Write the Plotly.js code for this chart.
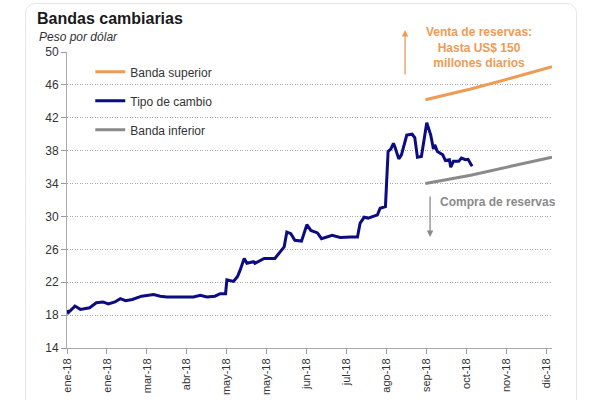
<!DOCTYPE html>
<html>
<head>
<meta charset="utf-8">
<script src="https://cdn.plot.ly/plotly-3.0.1.min.js"></script>
<style>
  html, body { margin: 0; padding: 0; background: #ffffff; }
  #wrap { position: relative; width: 600px; height: 400px; overflow: hidden; }
  #frame { position: absolute; left: 25px; top: 3px; width: 552px; height: 430px;
           border: 1px solid #e6e6e6; border-radius: 10px; box-sizing: border-box; }
  #chart { position: absolute; left: 0; top: 0; width: 600px; height: 400px; }
</style>
</head>
<body>
<div id="wrap">
  <div id="frame"></div>
  <div id="chart"></div>
</div>
<script>
// ---- Data ----
const tipoDates = ['2018-01-01','2018-01-02','2018-01-07','2018-01-11','2018-01-18','2018-01-23','2018-01-28',
  '2018-02-01','2018-02-06','2018-02-10','2018-02-14','2018-02-19','2018-02-26','2018-03-07','2018-03-12',
  '2018-03-17','2018-03-27','2018-04-06','2018-04-11','2018-04-16','2018-04-22','2018-04-26','2018-04-30',
  '2018-05-01','2018-05-06','2018-05-09','2018-05-11','2018-05-14','2018-05-16','2018-05-21','2018-05-22',
  '2018-05-29','2018-06-06','2018-06-09','2018-06-11','2018-06-13','2018-06-15','2018-06-18','2018-06-21',
  '2018-06-26','2018-06-30','2018-07-03','2018-07-08','2018-07-11','2018-07-19','2018-07-25','2018-08-02',
  '2018-08-07','2018-08-09','2018-08-12','2018-08-15','2018-08-22','2018-08-24','2018-08-28','2018-08-30',
  '2018-09-01','2018-09-03','2018-09-04','2018-09-07','2018-09-09','2018-09-13','2018-09-17','2018-09-19',
  '2018-09-21','2018-09-24','2018-09-28','2018-10-01','2018-10-03','2018-10-04','2018-10-06','2018-10-10',
  '2018-10-12','2018-10-15','2018-10-16','2018-10-18','2018-10-22','2018-10-24','2018-10-27','2018-10-29',
  '2018-11-01'];
const tipoValues = [18.6,18.3,19.1,18.7,18.9,19.5,19.6,
  19.35,19.6,20.0,19.75,19.9,20.3,20.5,20.3,
  20.2,20.2,20.2,20.4,20.2,20.3,20.6,20.6,
  22.3,22.1,22.7,23.5,24.9,24.3,24.5,24.3,
  24.9,24.9,25.5,25.9,26.3,28.1,27.9,27.1,
  27.0,29.0,28.3,28.0,27.3,27.7,27.45,27.5,
  27.5,29.2,29.9,29.8,30.2,31.0,31.2,37.9,
  38.2,38.9,38.5,37.0,37.5,39.9,40.0,39.6,
  37.2,37.3,41.4,39.9,38.2,38.7,37.9,37.5,
  36.8,36.9,36.0,36.7,36.7,37.1,36.9,36.95,
  36.1];

const bandaDates = ['2018-09-27','2018-10-31','2018-11-30','2018-12-31'];
const bandaSuperior = [44.2, 45.5, 46.8, 48.2];
const bandaInferior = [34.0, 35.0, 36.1, 37.2];

const xTickLabels = ['ene-18','ene-18','mar-18','abr-18','may-18','may-18','jun-18',
  'jul-18','ago-18','sep-18','oct-18','nov-18','dic-18'];

// ---- Ticks every 30 days from 1 Jan 2018 ----
const start = Date.UTC(2018,0,1);
const xTickVals = xTickLabels.map((_, i) => {
  const d = new Date(start + i*30*86400000);
  return d.toISOString().slice(0,10);
});

const FONT = 'Liberation Sans, Arial, sans-serif';
const ORANGE = '#EE9B55';
const NAVY = '#0B0B82';
const GRAY = '#8A8A8A';

const traces = [
  { x: bandaDates, y: bandaSuperior, name: 'Banda superior', mode: 'lines', legendgroup: 'a',
    line: { color: ORANGE, width: 3 } },
  { x: tipoDates, y: tipoValues, name: 'Tipo de cambio', mode: 'lines', legendgroup: 'b',
    line: { color: NAVY, width: 3 } },
  { x: bandaDates, y: bandaInferior, name: 'Banda inferior', mode: 'lines', legendgroup: 'c',
    line: { color: GRAY, width: 3 } }
];

const layout = {
  width: 600, height: 400,
  margin: { l: 67, r: 48, t: 52, b: 52 },
  paper_bgcolor: 'rgba(0,0,0,0)',
  plot_bgcolor: 'rgba(0,0,0,0)',
  font: { family: FONT, size: 12, color: '#333333' },
  title: { text: '<b>Bandas cambiarias</b>', x: 37/600, xanchor: 'left', xref: 'container',
           y: 1 - 18/400, yanchor: 'middle', yref: 'container',
           font: { family: FONT, size: 16, color: '#1a1a1a' } },
  showlegend: true,
  legend: { x: 0.048, y: 0.982, xanchor: 'left', yanchor: 'top', bgcolor: 'rgba(0,0,0,0)',
            font: { family: FONT, size: 12, color: '#333333' }, tracegroupgap: 10,
            traceorder: 'grouped' },
  xaxis: {
    type: 'date', range: ['2018-01-01', '2018-12-31'],
    tickmode: 'array', tickvals: xTickVals, ticktext: xTickLabels,
    tickangle: -90, ticks: 'outside', ticklen: 5, tickcolor: '#999999',
    showline: true, linecolor: '#aaaaaa', linewidth: 1, showgrid: false, zeroline: false,
    tickfont: { family: FONT, size: 11, color: '#333333' }
  },
  yaxis: {
    range: [14, 50], dtick: 4, tick0: 14,
    ticks: 'outside', ticklen: 5, tickcolor: '#999999',
    showline: true, linecolor: '#aaaaaa', linewidth: 1,
    showgrid: true, gridcolor: '#a8a8a8', griddash: '1px,1.5px', gridwidth: 1, zeroline: false,
    tickfont: { family: FONT, size: 12, color: '#333333' }
  },
  annotations: [
    { text: '<i>Peso por dólar</i>', xref: 'paper', yref: 'paper', x: (37-66.7)/485.3, y: (348-37)/296,
      xanchor: 'left', yanchor: 'middle', showarrow: false, font: { family: FONT, size: 12, color: '#333333' } },
    { text: '<b>Venta de reservas:<br>Hasta US$ 150<br>millones diarios</b>', xref: 'paper', yref: 'paper',
      x: (479-66.7)/485.3, y: (348-48)/296, xanchor: 'center', yanchor: 'middle', showarrow: false,
      align: 'center', font: { family: FONT, size: 12, color: ORANGE } },
    { text: '', xref: 'paper', yref: 'paper', x: (405-66.7)/485.3, y: (348-30)/296,
      showarrow: true, ax: 0, ay: 46, arrowhead: 2, arrowsize: 1, arrowwidth: 1.3, arrowcolor: ORANGE },
    { text: '<b>Compra de reservas</b>', xref: 'paper', yref: 'paper',
      x: (498-66.7)/485.3, y: (348-202)/296, xanchor: 'center', yanchor: 'middle', showarrow: false,
      font: { family: FONT, size: 12, color: GRAY } },
    { text: '', xref: 'paper', yref: 'paper', x: (430-66.7)/485.3, y: (348-237)/296,
      showarrow: true, ax: 0, ay: -42, arrowhead: 2, arrowsize: 1, arrowwidth: 1.3, arrowcolor: GRAY }
  ]
};

Plotly.newPlot('chart', traces, layout, { displayModeBar: false, staticPlot: true });
</script>
</body>
</html>
